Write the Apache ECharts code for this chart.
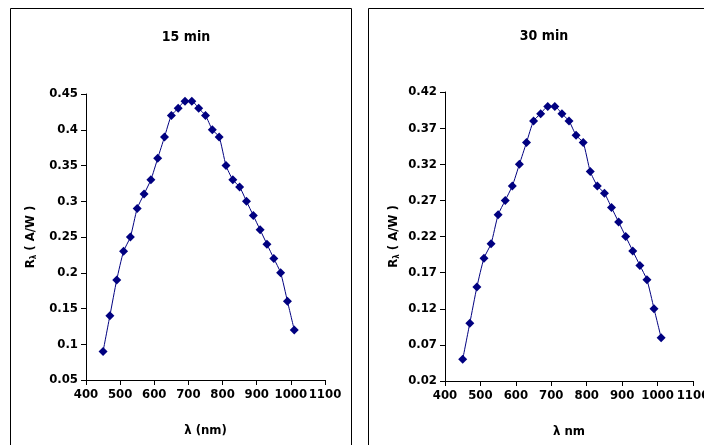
<!DOCTYPE html>
<html><head><meta charset="utf-8">
<script src="https://cdn.jsdelivr.net/npm/echarts@6/dist/echarts.min.js"></script>
<style>html,body{margin:0;padding:0;background:#fff}#c{width:704px;height:445px}</style>
</head><body><div id="c"></div>
<script>
const wavelengths = [450,470,490,510,530,550,570,590,610,630,650,670,690,710,730,750,770,790,810,830,850,870,890,910,930,950,970,990,1010];
const resp15 = [0.09,0.14,0.19,0.23,0.25,0.29,0.31,0.33,0.36,0.39,0.42,0.43,0.44,0.44,0.43,0.42,0.40,0.39,0.35,0.33,0.32,0.30,0.28,0.26,0.24,0.22,0.20,0.16,0.12];
const resp30 = [0.05,0.10,0.15,0.19,0.21,0.25,0.27,0.29,0.32,0.35,0.38,0.39,0.40,0.40,0.39,0.38,0.36,0.35,0.31,0.29,0.28,0.26,0.24,0.22,0.20,0.18,0.16,0.12,0.08];
const titles = ['15 min','30 min'];
const xNames = ['λ (nm)','λ nm'];

const FONT = "'Liberation Sans Narrow','Arial Narrow','DejaVu Sans Condensed','Liberation Sans',Arial,sans-serif";
const chart = echarts.init(document.getElementById('c'));
const labelBase = {color:'#000',fontFamily:FONT,fontWeight:'bold',fontSize:13,showMaxLabel:true,showMinLabel:true,hideOverlap:false};
const axisCommon = {
  axisLine:{show:true,lineStyle:{color:'#000',width:1}},
  axisTick:{show:true,inside:false,length:5,lineStyle:{color:'#000'}},
  splitLine:{show:false}
};
const yName = '{r|R}{s|λ}{r| ( A/W )}';
const yRich = {r:{fontFamily:FONT,fontWeight:'bold',fontSize:13,color:'#000'},s:{fontFamily:FONT,fontWeight:'bold',fontSize:8,color:'#000',verticalAlign:'bottom',padding:[6,0,0,0]}};
const nameStyle = {fontFamily:FONT,fontWeight:'bold',fontSize:13,color:'#000'};
const mk = (i, data) => ({
  type:'line', xAxisIndex:i, yAxisIndex:i,
  data: wavelengths.map((w,k)=>[w,data[k]]),
  symbol:'diamond', symbolSize:9, smooth:0.2,
  lineStyle:{color:'#000080',width:1},
  itemStyle:{color:'#000080'},
  animation:false
});
const xAx = (i) => Object.assign({},axisCommon,{type:'value',gridIndex:i,min:400,max:1100,interval:100,name:xNames[i],nameLocation:'middle',nameGap:44,nameTextStyle:nameStyle,
  axisLabel:Object.assign({},labelBase,{formatter:v=>String(v)})});
const yAx = (i,min,max,gap) => Object.assign({},axisCommon,{type:'value',gridIndex:i,min:min,max:max,interval:0.05,name:yName,nameLocation:'middle',nameGap:gap,nameTextStyle:{rich:yRich},
  axisLabel:Object.assign({},labelBase,{formatter:v=>String(+v.toFixed(2))})});
chart.setOption({
  animation:false,
  graphic:[
    {type:'rect',shape:{x:10.5,y:8.5,width:341,height:460},style:{fill:'none',stroke:'#000',lineWidth:1}},
    {type:'rect',shape:{x:368.5,y:8.5,width:360,height:460},style:{fill:'none',stroke:'#000',lineWidth:1}}
  ],
  title:[
    {text:titles[0],left:181,top:25,textAlign:'center',textStyle:{fontFamily:FONT,fontWeight:'bold',fontSize:14,color:'#000'}},
    {text:titles[1],left:539,top:24,textAlign:'center',textStyle:{fontFamily:FONT,fontWeight:'bold',fontSize:14,color:'#000'}}
  ],
  grid:[
    {left:86,top:94,width:239,height:286,containLabel:false,outerBoundsMode:'none'},
    {left:445,top:92,width:248,height:289,containLabel:false,outerBoundsMode:'none'}
  ],
  xAxis:[xAx(0),xAx(1)],
  yAxis:[yAx(0,0.05,0.45,48),yAx(1,0.02,0.42,44)],
  series:[mk(0,resp15),mk(1,resp30)]
});
</script></body></html>
